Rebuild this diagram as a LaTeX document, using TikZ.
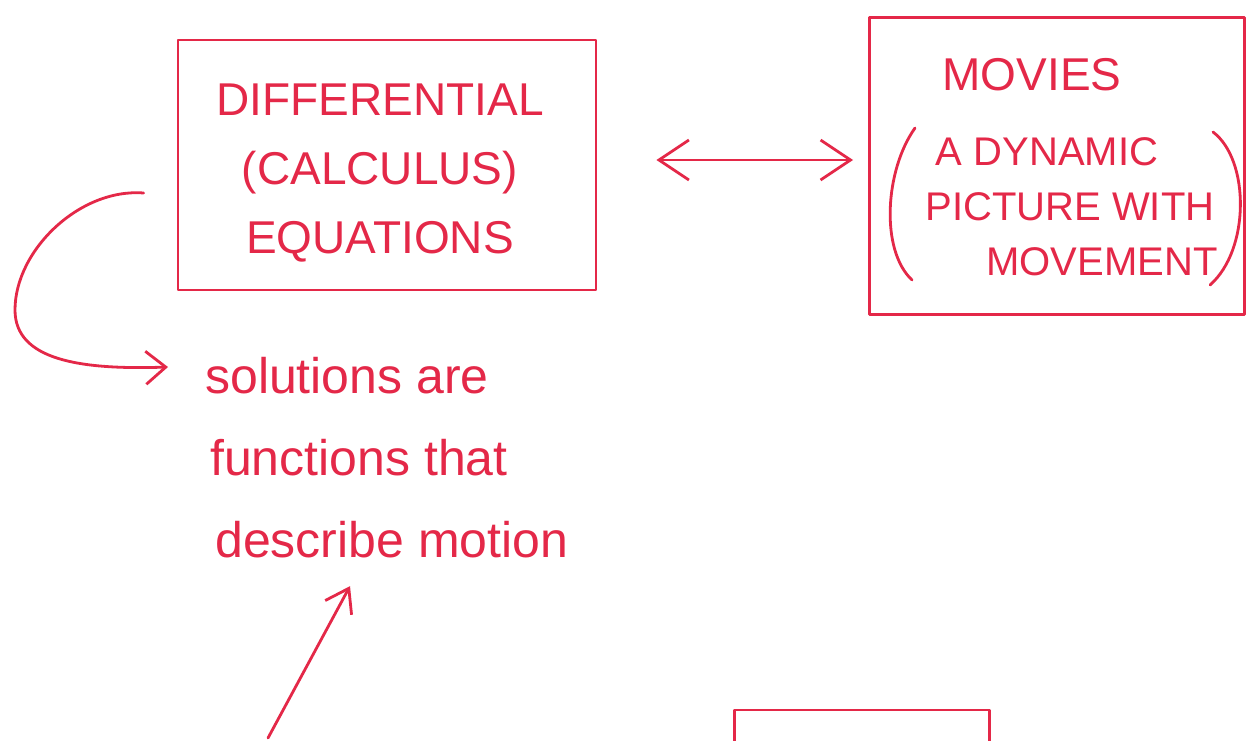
\documentclass[tikz,border=0pt]{standalone}
\usepackage{fontspec}
\setmainfont{Liberation Sans}
\usetikzlibrary{arrows.meta,calc}
\definecolor{pen}{RGB}{228,40,72}
\begin{document}
\begin{tikzpicture}[x=1pt,y=-1pt,
  ink/.style={draw=pen, line width=2.8pt, line cap=round, line join=round},
  boxnode/.style={ink, inner sep=0pt},
  txt/.style={text=pen, inner sep=0pt}]
\clip (0,0) rectangle (1255,740);
\fill[white] (0,0) rectangle (1255,740);
% boxes
\node[boxnode, minimum width=418pt, minimum height=250pt] (eq) at (387,165) {};
\node[txt, align=center, font=\fontsize{46}{69}\selectfont] (eqt) at (380,173)
      {DIFFERENTIAL\\(CALCULUS)\\EQUATIONS};
\node[boxnode, minimum width=375pt, minimum height=297pt] (mv) at (1057,166) {};
\node[txt, anchor=base, font=\fontsize{46}{55}\selectfont] (mvt) at (1032,90) {MOVIES};
\node[txt, anchor=base, font=\fontsize{40}{55}\selectfont] (l1) at (1047,165) {A DYNAMIC};
\node[txt, anchor=base, font=\fontsize{40}{55}\selectfont] (l2) at (1070,220) {PICTURE WITH};
\node[txt, anchor=base, font=\fontsize{40}{55}\selectfont] (l3) at (1102,275) {MOVEMENT};
\draw[ink] (915,128) .. controls (885,170) and (880,250) .. (912,280);
\draw[ink] (1213,132) .. controls (1250,160) and (1250,250) .. (1210,285);
\node[boxnode, minimum width=255pt, minimum height=80pt] (bot) at (862,750) {};
% solutions text
\node[txt, anchor=north west, align=left, font=\fontsize{50}{82}\selectfont] (sol) at (205,357)
  {solutions are\\\hspace*{5pt}functions that\\\hspace*{10pt}describe motion};
% connectors
\draw[ink, {Straight Barb[length=30pt,width=40pt]}-{Straight Barb[length=30pt,width=40pt]}]
  ($(eq.east)+(59,-5)$) -- ($(mv.west)+(-15,-6)$);
\draw[ink, -{Straight Barb[length=20pt,width=33pt]}]
  ($(eq.west)+(-33,28)$) .. controls (80,188) and (15,250) .. (15,310)
  .. controls (15,360) and (80,370) .. ($(sol.north west)+(-37,10)$);
\coordinate (tail) at (268,738);
\draw[ink, -{Straight Barb[length=22pt,width=30pt]}] (tail) -- ($(sol.south west)+(145,28)$);
\end{tikzpicture}
\end{document}
